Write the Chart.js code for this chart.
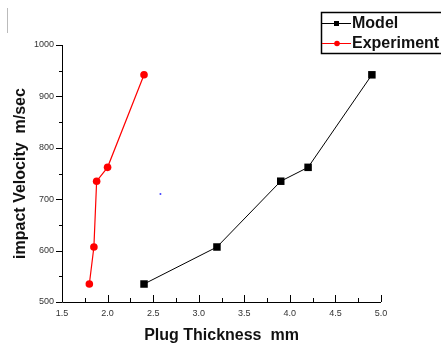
<!DOCTYPE html>
<html><head><meta charset="utf-8">
<script src="https://cdn.jsdelivr.net/npm/chart.js@4/dist/chart.umd.min.js"></script>
<style>html,body{margin:0;padding:0;background:#fff;}#wrap{width:441px;height:349px;position:relative;}</style>
</head><body><div id="wrap"><canvas id="c" width="441" height="349"></canvas></div>
<script>
const modelThickness = [2.4, 3.2, 3.9, 4.2, 4.9];
const modelVelocity = [535, 607, 735, 762, 942];
const expThickness = [1.8, 1.85, 1.88, 2.0, 2.4];
const expVelocity = [535, 607, 735, 762, 942];
const strayX = [2.58];
const strayY = [710];
const xTicks = [1.5, 2.0, 2.5, 3.0, 3.5, 4.0, 4.5, 5.0];
const yTicks = [500, 600, 700, 800, 900, 1000];
const seriesNames = ['Model', 'Experiment'];

const toPts = (xs, ys) => xs.map((x, i) => ({x, y: ys[i]}));

const tickPlugin = {
  id: 'customTicks',
  afterDraw(chart) {
    const ctx = chart.ctx;
    const xs = chart.scales.x, ys = chart.scales.y;
    const ca = chart.chartArea;
    ctx.save();
    ctx.strokeStyle = '#000';
    ctx.lineWidth = 1;
    ctx.beginPath();
    ctx.moveTo(Math.round(ca.left) + 0.5, ca.top);
    ctx.lineTo(Math.round(ca.left) + 0.5, Math.round(ca.bottom) + 0.5);
    ctx.lineTo(ca.right, Math.round(ca.bottom) + 0.5);
    ctx.stroke();
    ctx.beginPath();
    for (let i = 0; i < xTicks.length; i++) {
      const px = Math.round(xs.getPixelForValue(xTicks[i])) + 0.5;
      ctx.moveTo(px, Math.round(ca.bottom)); ctx.lineTo(px, Math.round(ca.bottom) - 7);
      if (i < xTicks.length - 1) {
        const mx = Math.round(xs.getPixelForValue((xTicks[i] + xTicks[i + 1]) / 2)) + 0.5;
        ctx.moveTo(mx, Math.round(ca.bottom)); ctx.lineTo(mx, Math.round(ca.bottom) - 4);
      }
    }
    for (let i = 0; i < yTicks.length; i++) {
      const py = Math.round(ys.getPixelForValue(yTicks[i])) + 0.5;
      ctx.moveTo(Math.round(ca.left), py); ctx.lineTo(Math.round(ca.left) - 6, py);
      if (i < yTicks.length - 1) {
        const my = Math.round(ys.getPixelForValue((yTicks[i] + yTicks[i + 1]) / 2)) + 0.5;
        ctx.moveTo(Math.round(ca.left), my); ctx.lineTo(Math.round(ca.left) - 3, my);
      }
    }
    ctx.stroke();

    const bx = 321.5, by = 12.5, bw = 130, bh = 41;
    ctx.strokeStyle = '#000';
    ctx.lineWidth = 1.5;
    ctx.strokeRect(bx, by, bw, bh);
    ctx.font = 'bold 16px "Liberation Sans", Arial, sans-serif';
    ctx.textBaseline = 'middle';
    const rows = [23, 43];
    chart.data.datasets.slice(0, 2).forEach((ds, i) => {
      const y = rows[i] + 0.5;
      ctx.strokeStyle = ds.borderColor;
      ctx.lineWidth = 1;
      ctx.beginPath(); ctx.moveTo(322, y); ctx.lineTo(351, y); ctx.stroke();
      ctx.fillStyle = ds.pointBackgroundColor;
      if (ds.pointStyle === 'rect') {
        ctx.fillRect(334, y - 2.5, 5, 5);
      } else {
        ctx.beginPath(); ctx.arc(337, y, 2.8, 0, Math.PI * 2); ctx.fill();
      }
      ctx.fillStyle = '#111';
      ctx.fillText(seriesNames[i], 352, rows[i] + 1);
    });
    ctx.strokeStyle = '#bbb';
    ctx.lineWidth = 1;
    ctx.beginPath(); ctx.moveTo(7.5, 8); ctx.lineTo(7.5, 33); ctx.stroke();
    ctx.restore();
  }
};

new Chart(document.getElementById('c'), {
  type: 'scatter',
  data: {
    datasets: [
      { label: seriesNames[0], data: toPts(modelThickness, modelVelocity), showLine: true,
        borderColor: '#000', backgroundColor: '#000', pointBackgroundColor: '#000', pointBorderColor: '#000',
        borderWidth: 1, pointStyle: 'rect', pointRadius: 5.3, pointBorderWidth: 0 },
      { label: seriesNames[1], data: toPts(expThickness, expVelocity), showLine: true,
        borderColor: '#ff0000', backgroundColor: '#ff0000', pointBackgroundColor: '#ff0000', pointBorderColor: '#ff0000',
        borderWidth: 1.2, pointStyle: 'circle', pointRadius: 3.8, pointBorderWidth: 0 },
      { label: 'stray', data: toPts(strayX, strayY), showLine: false,
        pointBackgroundColor: '#4040ff', pointBorderColor: '#4040ff', pointRadius: 1, pointBorderWidth: 0 }
    ]
  },
  options: {
    responsive: false, animation: false,
    layout: { padding: { top: 45, right: 60, left: 0, bottom: 0 } },
    plugins: { legend: { display: false }, tooltip: { enabled: false } },
    scales: {
      x: {
        type: 'linear', min: 1.5, max: 5.0,
        border: { display: false },
        grid: { display: false, drawTicks: false },
        afterBuildTicks: s => { s.ticks = xTicks.map(v => ({value: v})); },
        afterFit: s => { s.height = 47; },
        ticks: { padding: 6, color: '#333', font: { family: '"Liberation Sans", Arial, sans-serif', size: 9 },
                 callback: v => Number(v).toFixed(1), maxRotation: 0, autoSkip: false },
        title: { display: true, text: 'Plug Thickness  mm', color: '#111',
                 font: { family: '"Liberation Sans", Arial, sans-serif', size: 16, weight: 'bold' }, padding: { top: 6 } }
      },
      y: {
        type: 'linear', min: 500, max: 1000,
        border: { display: false },
        grid: { display: false, drawTicks: false },
        afterBuildTicks: s => { s.ticks = yTicks.map(v => ({value: v})); },
        afterFit: s => { s.width = 62; },
        ticks: { padding: 8, color: '#333', font: { family: '"Liberation Sans", Arial, sans-serif', size: 9 },
                 callback: v => String(v), autoSkip: false },
        title: { display: true, text: 'impact Velocity  m/sec', color: '#111',
                 font: { family: '"Liberation Sans", Arial, sans-serif', size: 16, weight: 'bold' }, padding: { bottom: 0, top: 11 } }
      }
    }
  },
  plugins: [tickPlugin]
});
</script></body></html>
